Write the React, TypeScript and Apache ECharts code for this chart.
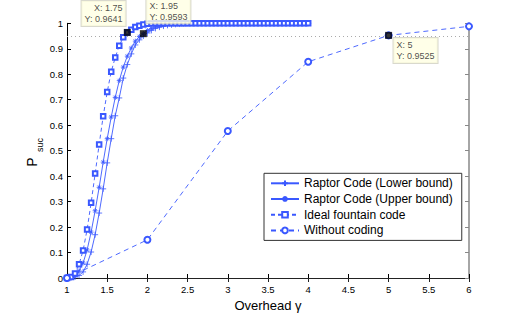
import React, { useEffect, useRef } from "react";
import * as echarts from "echarts";

const overhead = [
  1, 1.05, 1.1, 1.15, 1.2, 1.25, 1.3, 1.35, 1.4, 1.45, 1.5, 1.55, 1.6, 1.65, 1.7, 1.75, 1.8, 1.85, 1.9, 1.95,
  2, 2.05, 2.1, 2.15, 2.2, 2.25, 2.3, 2.35, 2.4, 2.45, 2.5, 2.55, 2.6, 2.65, 2.7, 2.75, 2.8, 2.85, 2.9, 2.95,
  3, 3.05, 3.1, 3.15, 3.2, 3.25, 3.3, 3.35, 3.4, 3.45, 3.5, 3.55, 3.6, 3.65, 3.7, 3.75, 3.8, 3.85, 3.9, 3.95, 4,
];

const lowerBound = [
  0, 0.001, 0.004, 0.01, 0.024, 0.054, 0.102, 0.17, 0.255, 0.35, 0.452, 0.547, 0.637, 0.707, 0.785, 0.838, 0.88, 0.915, 0.935, 0.95,
  0.962, 0.972, 0.98, 0.985, 0.989, 0.992, 0.994, 0.996, 0.997, 0.998, 0.999, 1, 1, 1, 1, 1, 1, 1, 1, 1,
  1, 1, 1, 1, 1, 1, 1, 1, 1, 1, 1, 1, 1, 1, 1, 1, 1, 1, 1, 1, 1,
];

const upperBound = [
  0, 0.002, 0.01, 0.028, 0.059, 0.11, 0.18, 0.264, 0.356, 0.455, 0.547, 0.632, 0.709, 0.775, 0.828, 0.871, 0.903, 0.93, 0.948, 0.9593,
  0.972, 0.98, 0.986, 0.99, 0.993, 0.995, 0.997, 0.998, 0.999, 1, 1, 1, 1, 1, 1, 1, 1, 1, 1, 1,
  1, 1, 1, 1, 1, 1, 1, 1, 1, 1, 1, 1, 1, 1, 1, 1, 1, 1, 1, 1, 1,
];

const idealFountain = [
  0, 0.004, 0.018, 0.054, 0.108, 0.19, 0.295, 0.41, 0.524, 0.635, 0.73, 0.81, 0.866, 0.912, 0.945, 0.9641, 0.975, 0.985, 0.99, 0.995,
  0.998, 0.999, 1, 1, 1, 1, 1, 1, 1, 1, 1, 1, 1, 1, 1, 1, 1, 1, 1, 1,
  1, 1, 1, 1, 1, 1, 1, 1, 1, 1, 1, 1, 1, 1, 1, 1, 1, 1, 1, 1, 1,
];

const withoutX = [1, 2, 3, 4, 5, 6];
const withoutY = [0, 0.15, 0.577, 0.849, 0.9525, 0.988];

const tipX = [1.75, 1.95, 5];
const tipY = [0.9641, 0.9593, 0.9525];

const targetLevel = 0.95;

const seriesNames = [
  "Raptor Code (Lower bound)",
  "Raptor Code (Upper bound)",
  "Ideal fountain code",
  "Without coding",
];

const BLUE = "#3a58ff";
const FONT = "Liberation Sans, Arial, sans-serif";

const plusPath = "path://M0,5L10,5M5,0L5,10";
const starPath = "path://M0,5L10,5M5,0L5,10M1.5,1.5L8.5,8.5M8.5,1.5L1.5,8.5";

export default function App() {
  const ref = useRef<HTMLDivElement>(null);
  useEffect(() => {
    if (!ref.current) return;
    const chart = echarts.init(ref.current, null, { renderer: "svg" });
    const pairs = (ys: number[]) => overhead.map((x, i) => [x, ys[i]]);
    const tipPositions: any[] = [
      { position: [1.8, -3], align: "right", verticalAlign: "bottom" },
      { position: [6.5, -7], align: "left", verticalAlign: "bottom" },
      { position: [8.4, 6], align: "left", verticalAlign: "top" },
    ];
    const option: any = {
      animation: false,
      backgroundColor: "#fff",
      textStyle: { fontFamily: FONT },
      grid: { left: 67, right: 49, top: 23.3, bottom: 36.5, containLabel: false },
      xAxis: [
        {
          type: "value",
          min: 1,
          max: 6,
          interval: 0.5,
          position: "bottom",
          name: "Overhead γ",
          nameLocation: "middle",
          nameGap: 21,
          nameTextStyle: { fontSize: 13, color: "#000", fontFamily: FONT },
          axisLine: { lineStyle: { color: "#000", width: 1 } },
          axisTick: { inside: true, length: 4, lineStyle: { color: "#000" } },
          axisLabel: { fontSize: 9.5, color: "#000", margin: 6, fontFamily: FONT, formatter: (v: number) => String(Number(v.toFixed(1))) },
          splitLine: { show: false },
        },
        {
          type: "value",
          min: 1,
          max: 6,
          interval: 0.5,
          position: "top",
          axisLine: { lineStyle: { color: "#222", width: 1 } },
          axisTick: { inside: true, length: 4, lineStyle: { color: "#222" } },
          axisLabel: { show: false },
          splitLine: { show: false },
        },
      ],
      yAxis: [
        {
          type: "value",
          min: 0,
          max: 1,
          interval: 0.1,
          position: "left",
          axisLine: { show: true, lineStyle: { color: "#000", width: 1 } },
          axisTick: { show: true, inside: true, length: 4, lineStyle: { color: "#000" } },
          axisLabel: { fontSize: 9.5, color: "#000", margin: 4, fontFamily: FONT, formatter: (v: number) => String(Number(v.toFixed(1))) },
          splitLine: { show: false },
        },
        {
          type: "value",
          min: 0,
          max: 1,
          interval: 0.1,
          position: "right",
          axisLine: { show: true, lineStyle: { color: "#888", width: 1.5 } },
          axisTick: { show: true, inside: true, length: 4, lineStyle: { color: "#888" } },
          axisLabel: { show: false },
          splitLine: { show: false },
        },
      ],
      legend: {
        data: seriesNames,
        orient: "vertical",
        left: 264,
        top: 173.3,
        padding: [4, 9, 4, 6],
        itemWidth: 28,
        itemHeight: 7,
        itemGap: 3.7,
        borderColor: "#333",
        borderWidth: 1,
        backgroundColor: "#fff",
        textStyle: { fontSize: 12, color: "#000", fontFamily: FONT },
      },
      series: [
        {
          name: seriesNames[0],
          type: "line",
          data: pairs(lowerBound),
          symbol: plusPath,
          symbolSize: 6,
          lineStyle: { color: BLUE, width: 0.9 },
          itemStyle: { color: BLUE, borderColor: BLUE, borderWidth: 0.8 },
          z: 2,
        },
        {
          name: seriesNames[1],
          type: "line",
          data: pairs(upperBound),
          symbol: starPath,
          symbolSize: 5,
          lineStyle: { color: BLUE, width: 0.9 },
          itemStyle: { color: BLUE, borderColor: BLUE, borderWidth: 0.8 },
          z: 2,
        },
        {
          name: seriesNames[2],
          type: "line",
          data: pairs(idealFountain),
          symbol: "emptyRect",
          symbolSize: 4.5,
          lineStyle: { color: BLUE, width: 0.9, type: [4, 3] },
          itemStyle: { color: BLUE, borderColor: BLUE, borderWidth: 0.7 },
          z: 2,
        },
        {
          name: seriesNames[3],
          type: "line",
          data: withoutX.map((x, i) => [x, withoutY[i]]),
          symbol: "emptyCircle",
          symbolSize: 6,
          lineStyle: { color: BLUE, width: 0.9, type: [5, 4] },
          itemStyle: { color: BLUE, borderColor: BLUE, borderWidth: 0.7 },
          z: 2,
          markLine: {
            silent: true,
            symbol: "none",
            label: { show: false },
            lineStyle: { color: "#aaa", width: 1, type: [1, 3] },
            data: [{ yAxis: targetLevel }],
            z: 1,
          },
        },
        {
          name: "datatips",
          type: "scatter",
          symbol: "rect",
          symbolSize: 7,
          itemStyle: { color: "#000" },
          z: 10,
          data: tipX.map((x, i) => ({
            value: [x, tipY[i]],
            label: {
              show: true,
              ...tipPositions[i],
              formatter: () => `X: ${tipX[i]}\nY: ${tipY[i]}`,
              fontSize: 9,
              lineHeight: 11,
              color: "#222",
              fontFamily: FONT,
              backgroundColor: "#ffffe2",
              borderColor: "#d0d0c0",
              borderWidth: 1,
              padding: [2, 3, 1, 3],
            },
          })),
        },
      ],
      graphic: [
        {
          type: "text",
          x: 32,
          y: 162,
          rotation: Math.PI / 2,
          style: { text: "P", fontSize: 14, fill: "#000", fontFamily: FONT, align: "center", verticalAlign: "middle" },
        },
        {
          type: "text",
          x: 39.5,
          y: 145,
          rotation: Math.PI / 2,
          style: { text: "suc", fontSize: 9, fill: "#000", fontFamily: FONT, align: "center", verticalAlign: "middle" },
        },
      ],
    };
    chart.setOption(option);
    return () => chart.dispose();
  }, []);
  return <div ref={ref} style={{ width: 518, height: 317, position: "absolute", left: 0, top: 0 }} />;
}
